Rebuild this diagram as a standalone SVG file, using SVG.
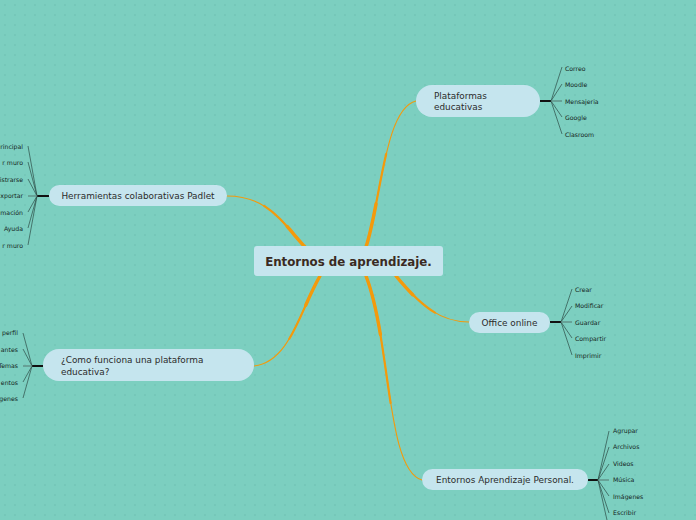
<svg xmlns="http://www.w3.org/2000/svg" width="696" height="520" viewBox="0 0 696 520">
<defs>
<pattern id="dots" x="0" y="0" width="10" height="10" patternUnits="userSpaceOnUse">
<path d="M4,5 H6 M5,4 V6" stroke="#6fc2b3" stroke-width="0.7"/>
</pattern>
<path id="c1" d="M366,247 C381,200 385,108 416,101"/>
<path id="c2" d="M305,247 C282,222 268,196 227,196"/>
<path id="c3" d="M320,276 C300,310 290,362 254,366"/>
<path id="c4" d="M396,276 C420,305 440,322 469,322"/>
<path id="c5" d="M366,276 C391,340 386,470 422,480"/>
<style>
.node{fill:#c5e5ee;}
.t{font-family:"DejaVu Sans",Verdana,sans-serif;font-size:8.9px;fill:#2b2b2b;}
.main{font-family:"DejaVu Sans",Verdana,sans-serif;font-size:11.8px;font-weight:bold;fill:#3a2a22;}
.leaf{font-family:"DejaVu Sans",Verdana,sans-serif;font-size:6.2px;fill:#141f1d;}
.b1{stroke:#f39a0c;stroke-width:1.1;fill:none;stroke-linecap:round;}
.b2{stroke:#f39a0c;stroke-width:2.2;fill:none;stroke-linecap:round;stroke-dasharray:60 200;}
.b3{stroke:#f39a0c;stroke-width:3.4;fill:none;stroke-linecap:round;stroke-dasharray:28 200;}
.ln{stroke:#2c4c46;stroke-width:0.7;fill:none;}
.mid{stroke:#5f8f86;stroke-width:1.4;fill:none;}
.stub{stroke:#111;stroke-width:2;fill:none;}
</style>
</defs>
<rect width="696" height="520" fill="#7ccfc0"/>
<rect width="696" height="520" fill="url(#dots)"/>

<g id="connectors">
<use href="#c1" class="b1"/><path class="b2" pathLength="100" d="M366,247 C381,200 385,108 416,101"/><path class="b3" pathLength="100" d="M366,247 C381,200 385,108 416,101"/>
<use href="#c2" class="b1"/><path class="b2" pathLength="100" d="M305,247 C282,222 268,196 227,196"/><path class="b3" pathLength="100" d="M305,247 C282,222 268,196 227,196"/>
<use href="#c3" class="b1"/><path class="b2" pathLength="100" d="M320,276 C300,310 290,362 254,366"/><path class="b3" pathLength="100" d="M320,276 C300,310 290,362 254,366"/>
<use href="#c4" class="b1"/><path class="b2" pathLength="100" d="M396,276 C420,305 440,322 469,322"/><path class="b3" pathLength="100" d="M396,276 C420,305 440,322 469,322"/>
<use href="#c5" class="b1"/><path class="b2" pathLength="100" d="M366,276 C391,340 386,470 422,480"/><path class="b3" pathLength="100" d="M366,276 C391,340 386,470 422,480"/>

<path class="stub" d="M540,101 H551"/>
<path class="ln" d="M551,101 L562,67 M551,101 L562,84 M551,101 L562,117 M551,101 L562,134"/>
<path class="mid" d="M551,101 H562"/>

<path class="stub" d="M49,196 H37"/>
<path class="ln" d="M37,196 L28,146 M37,196 L28,162 M37,196 L28,179 M37,196 L28,212 M37,196 L28,228 M37,196 L28,245"/>
<path class="mid" d="M37,196 H28"/>

<path class="stub" d="M43,366 H32"/>
<path class="ln" d="M32,366 L23,333 M32,366 L23,349 M32,366 L23,382 M32,366 L23,398"/>
<path class="mid" d="M32,366 H23"/>

<path class="stub" d="M550,322 H561"/>
<path class="ln" d="M561,322 L572,289 M561,322 L572,306 M561,322 L572,338 M561,322 L572,355"/>
<path class="mid" d="M561,322 H572"/>

<path class="stub" d="M588,480 H598"/>
<path class="ln" d="M598,480 L609,431 M598,480 L609,447 M598,480 L609,464 M598,480 L609,496 M598,480 L609,513 M598,480 L609,529"/>
<path class="mid" d="M598,480 H609"/>
</g>

<g id="central">
<rect class="node" x="254" y="246" width="189" height="30" rx="3"/>
<text class="main" x="348.5" y="265.5" text-anchor="middle">Entornos de aprendizaje.</text>
</g>

<g id="plataformas">
<rect class="node" x="416" y="85" width="124" height="32" rx="16"/>
<text class="t" x="434" y="99">Plataformas</text>
<text class="t" x="434" y="110">educativas</text>
<text class="leaf" x="565" y="71">Correo</text>
<text class="leaf" x="565" y="87">Moodle</text>
<text class="leaf" x="565" y="104">Mensajeria</text>
<text class="leaf" x="565" y="120">Google</text>
<text class="leaf" x="565" y="137">Clasroom</text>
</g>

<g id="herramientas">
<rect class="node" x="49" y="185" width="178" height="21" rx="10.5"/>
<text class="t" x="138" y="199" text-anchor="middle">Herramientas colaborativas Padlet</text>
<text class="leaf" x="23" y="149" text-anchor="end">rincipal</text>
<text class="leaf" x="23" y="165" text-anchor="end">r muro</text>
<text class="leaf" x="23" y="182" text-anchor="end">istrarse</text>
<text class="leaf" x="23" y="198" text-anchor="end">xportar</text>
<text class="leaf" x="23" y="215" text-anchor="end">mación</text>
<text class="leaf" x="23" y="231" text-anchor="end">Ayuda</text>
<text class="leaf" x="23" y="248" text-anchor="end">r muro</text>
</g>

<g id="como">
<rect class="node" x="43" y="349" width="211" height="32" rx="16"/>
<text class="t" x="61" y="363">¿Como funciona una plataforma</text>
<text class="t" x="61" y="375">educativa?</text>
<text class="leaf" x="18" y="335" text-anchor="end">perfil</text>
<text class="leaf" x="18" y="352" text-anchor="end">antes</text>
<text class="leaf" x="18" y="368" text-anchor="end">Temas</text>
<text class="leaf" x="18" y="385" text-anchor="end">entos</text>
<text class="leaf" x="18" y="401" text-anchor="end">genes</text>
</g>

<g id="office">
<rect class="node" x="469" y="312" width="81" height="21" rx="10.5"/>
<text class="t" x="509.5" y="326" text-anchor="middle">Office online</text>
<text class="leaf" x="575" y="292">Crear</text>
<text class="leaf" x="575" y="308">Modificar</text>
<text class="leaf" x="575" y="325">Guardar</text>
<text class="leaf" x="575" y="341">Compartir</text>
<text class="leaf" x="575" y="358">Imprimir</text>
</g>

<g id="personal">
<rect class="node" x="422" y="469" width="166" height="21" rx="10.5"/>
<text class="t" x="505" y="483" text-anchor="middle">Entornos Aprendizaje Personal.</text>
<text class="leaf" x="613" y="433">Agrupar</text>
<text class="leaf" x="613" y="449">Archivos</text>
<text class="leaf" x="613" y="466">Videos</text>
<text class="leaf" x="613" y="482">Música</text>
<text class="leaf" x="613" y="499">Imágenes</text>
<text class="leaf" x="613" y="515">Escribir</text>
</g>
</svg>
